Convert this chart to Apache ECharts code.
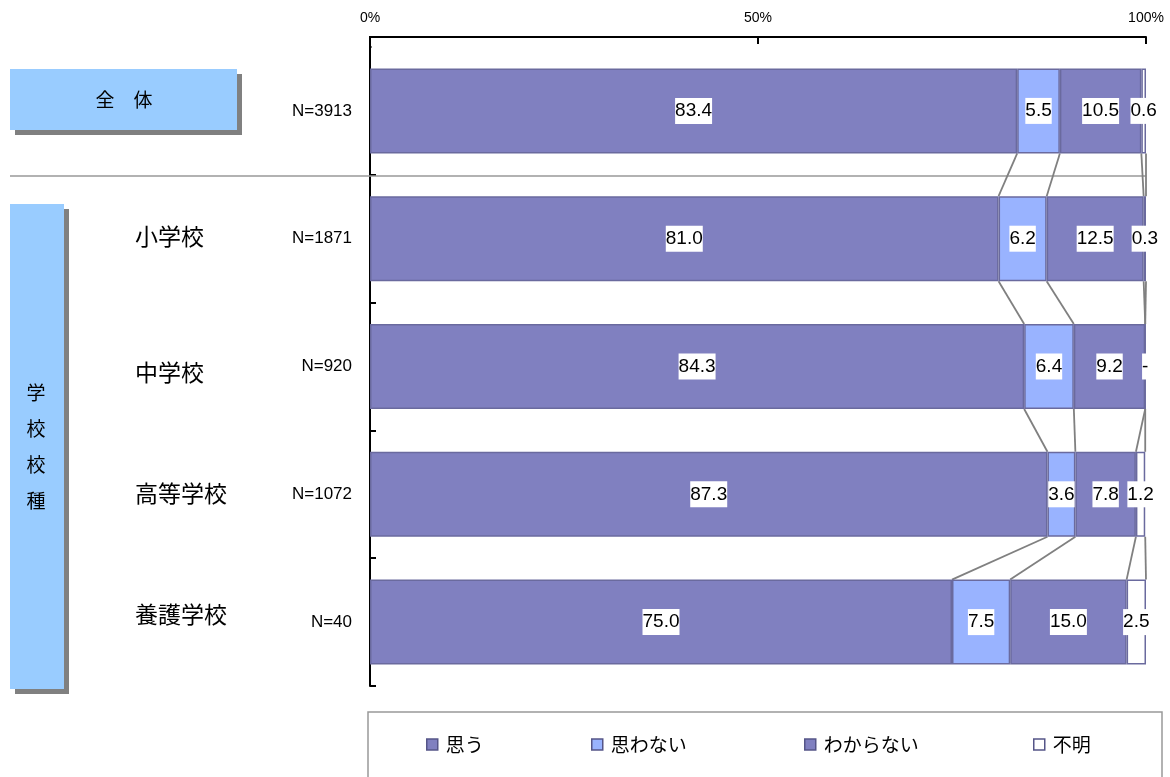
<!DOCTYPE html>
<html>
<head>
<meta charset="utf-8">
<script src="https://cdn.jsdelivr.net/npm/echarts@6/dist/echarts.min.js"></script>
<style>
  html, body { margin: 0; padding: 0; background: #fff; }
  #chart { width: 1170px; height: 777px; }
</style>
</head>
<body>
<div id="chart"></div>
<script>
// Rows, top to bottom
const groups = ['全体', '小学校', '中学校', '高等学校', '養護学校'];
const sampleSizes = ['N=3913', 'N=1871', 'N=920', 'N=1072', 'N=40'];
// Answer shares (%) for each row
const omou      = [83.4, 81.0, 84.3, 87.3, 75.0];
const omowanai  = [5.5, 6.2, 6.4, 3.6, 7.5];
const wakaranai = [10.5, 12.5, 9.2, 7.8, 15.0];
const fumei     = [0.6, 0.3, 0, 1.2, 2.5];
const seriesNames = ['思う', '思わない', 'わからない', '不明'];
const xTicks = [0, 50, 100];

const LATIN = "'Liberation Sans', 'Noto Sans CJK JP', sans-serif";
const CJK = "'Noto Sans CJK JP', sans-serif";
const BAR_W = 85;
const BORDER = '#6a6a9e';
const fills = ['#8080c0', '#99b3ff', '#8080c0', '#ffffff'];
const values = [omou, omowanai, wakaranai, fumei];

// Connector lines joining matching segment edges of neighbouring bars
const connectors = [];
for (let i = 0; i < groups.length - 1; i++) {
  let a = 0, b = 0;
  for (let k = 0; k < values.length; k++) {
    a += values[k][i];
    b += values[k][i + 1];
    connectors.push([a, i, b, i + 1]);
  }
}

// Per-row vertical nudges for the school-type names
const nameRich = {
  n0: { fontSize: 23, fontFamily: CJK, color: '#000', padding: [0, 0, 4, 0] },
  n1: { fontSize: 23, fontFamily: CJK, color: '#000', padding: [12, 0, 0, 0] },
  n2: { fontSize: 23, fontFamily: CJK, color: '#000', padding: [0, 0, 2, 0] },
  n3: { fontSize: 23, fontFamily: CJK, color: '#000', padding: [0, 0, 16, 0] }
};

const chart = echarts.init(document.getElementById('chart'), null, { renderer: 'canvas' });

const barSeries = seriesNames.map((name, k) => ({
  name,
  type: 'bar',
  stack: 'total',
  barWidth: BAR_W,
  data: values[k],
  itemStyle: { color: fills[k], borderColor: BORDER, borderWidth: 1.5 },
  emphasis: { disabled: true },
  label: {
    show: true,
    position: 'inside',
    color: '#000',
    backgroundColor: '#fff',
    fontSize: 19,
    fontFamily: LATIN,
    padding: [4, 0, 3, 0],
    formatter: p => (p.value === 0 ? '-' : p.value.toFixed(1))
  },
  z: 3
}));

const legendLefts = [426, 591, 804, 1033];

chart.setOption({
  animation: false,
  backgroundColor: '#fff',
  grid: { left: 370, right: 24, top: 47, bottom: 91, containLabel: false },
  xAxis: {
    type: 'value',
    position: 'top',
    offset: 10,
    min: xTicks[0],
    max: xTicks[xTicks.length - 1],
    interval: xTicks[1] - xTicks[0],
    axisLine: { show: true, lineStyle: { color: '#000', width: 2 } },
    axisTick: { show: true, inside: true, length: 7, lineStyle: { color: '#000', width: 2 } },
    axisLabel: { formatter: '{value}%', fontSize: 14, fontFamily: LATIN, color: '#000', margin: 12 },
    splitLine: { show: false }
  },
  yAxis: [
    {
      type: 'category',
      inverse: true,
      data: sampleSizes,
      axisLine: { show: true, lineStyle: { color: '#000', width: 2 } },
      axisTick: { show: true, inside: true, length: 6, lineStyle: { color: '#000', width: 2 } },
      axisLabel: { fontSize: 17, fontFamily: LATIN, color: '#000', margin: 18 }
    },
    {
      type: 'category',
      inverse: true,
      position: 'left',
      data: groups,
      axisLine: { show: false },
      axisTick: { show: false },
      axisLabel: {
        margin: 235,
        align: 'left',
        formatter: (v, i) => (i === 0 ? '' : '{n' + (i - 1) + '|' + v + '}'),
        rich: nameRich
      }
    }
  ],
  legend: legendLefts.map((x, k) => ({
    data: [{ name: seriesNames[k], icon: 'rect' }],
    left: x,
    top: 735,
    padding: 0,
    itemWidth: 11,
    itemHeight: 11,
    itemStyle: { borderColor: '#555588', borderWidth: 1.5 },
    selectedMode: false,
    textStyle: { fontSize: 19, fontFamily: CJK, color: '#000', padding: [0, 0, 0, 3] }
  })),
  series: [
    ...barSeries,
    {
      type: 'custom',
      name: 'connectors',
      data: connectors,
      encode: { x: [0, 2], y: [1, 3] },
      silent: true,
      z: 2,
      renderItem: (params, api) => {
        const p1 = api.coord([api.value(0), api.value(1)]);
        const p2 = api.coord([api.value(2), api.value(3)]);
        return {
          type: 'line',
          shape: { x1: p1[0], y1: p1[1] + BAR_W / 2, x2: p2[0], y2: p2[1] - BAR_W / 2 },
          style: { stroke: '#808080', lineWidth: 1.8 }
        };
      }
    }
  ],
  graphic: [
    // top stub of the category axis up to the value axis line
    { type: 'line', shape: { x1: 370, y1: 36, x2: 370, y2: 48 }, style: { stroke: '#000', lineWidth: 2 }, z: 10 },
    // the category axis has no tick at its upper end
    { type: 'rect', shape: { x: 371.5, y: 43, width: 8, height: 8 }, style: { fill: '#fff' }, z: 10 },
    // separator between the overall row and the school-type rows
    { type: 'line', shape: { x1: 10, y1: 176, x2: 1146, y2: 176 }, style: { stroke: '#999', lineWidth: 1.5 }, z: 1 },
    // 全体 box
    { type: 'rect', shape: { x: 15, y: 74, width: 227, height: 61 }, style: { fill: '#808080' }, z: 1 },
    { type: 'rect', shape: { x: 10, y: 69, width: 227, height: 61 }, style: { fill: '#99ccff' }, z: 2 },
    { type: 'text', x: 124, y: 100, style: { text: '全　体', font: "19px 'Noto Sans CJK JP', sans-serif", fill: '#000', textAlign: 'center', textVerticalAlign: 'middle' }, z: 3 },
    // 学校校種 box
    { type: 'rect', shape: { x: 15, y: 209, width: 54, height: 485 }, style: { fill: '#808080' }, z: 1 },
    { type: 'rect', shape: { x: 10, y: 204, width: 54, height: 485 }, style: { fill: '#99ccff' }, z: 2 },
    { type: 'text', x: 36, y: 447, style: { text: '学\n校\n校\n種', font: "19px 'Noto Sans CJK JP', sans-serif", lineHeight: 36, fill: '#000', textAlign: 'center', textVerticalAlign: 'middle' }, z: 3 },
    // legend frame
    { type: 'rect', shape: { x: 368, y: 712, width: 794, height: 80 }, style: { fill: 'none', stroke: '#999', lineWidth: 1.5 }, z: 0 }
  ]
});
</script>
</body>
</html>
